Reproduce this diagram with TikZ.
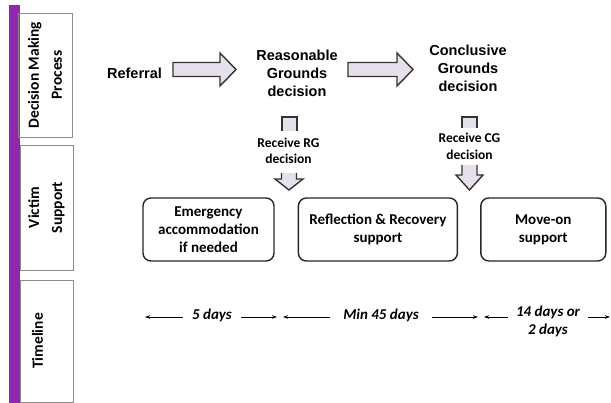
\documentclass[tikz,border=0pt]{standalone}
\usepackage{fontspec}
\setmainfont{Liberation Sans}
\newfontfamily\calib{Carlito}
\usetikzlibrary{calc,arrows.meta,positioning}
\definecolor{lanepurple}{RGB}{145,38,175}
\definecolor{arrowfill}{RGB}{230,224,237}
\definecolor{laneline}{RGB}{140,140,140}

\tikzset{
  lane/.style={draw=laneline, line width=0.8pt, rotate=90, inner sep=0pt},
  lanetext/.style={rotate=90, align=center, font=\calib\bfseries\fontsize{15.5}{23}\selectfont},
  decision/.style={align=center, font=\bfseries\fontsize{14.5}{18}\selectfont},
  stage/.style={draw=black!85, line width=1.4pt, rounded corners=8pt, minimum height=63pt, align=center, inner sep=0pt, font=\calib\bfseries\fontsize{15}{18}\selectfont},
  receive/.style={align=center, inner sep=0pt, font=\calib\bfseries\fontsize{13.5}{16.5}\selectfont},
  span/.style={align=center, inner xsep=9pt, font=\calib\bfseries\itshape\fontsize{15}{18}\selectfont},
  spanline/.style={line width=0.9pt, -{Stealth[length=5pt,width=3.5pt]}},
  blockarrow/.style={draw=black!80, line width=1.4pt, fill=arrowfill, line join=miter},
}

% right block arrow: #1 start of shaft, #2 tip (same height)
\newcommand\rblock[2]{%
  \filldraw[blockarrow] ($(#1)+(0,-7)$) -- ($(#2)+(-16,-7)$) -- ($(#2)+(-16,-16.5)$) -- (#2)
    -- ($(#2)+(-16,16.5)$) -- ($(#2)+(-16,7)$) -- ($(#1)+(0,7)$) -- cycle;}
% open stub of a down arrow: #1 top centre, #2 length
\newcommand\dstub[2]{%
  \filldraw[blockarrow] ($(#1)+(-7.5,#2)$) -- ($(#1)+(-7.5,0)$) -- ($(#1)+(7.5,0)$) -- ($(#1)+(7.5,#2)$);}
% open head of a down arrow: #1 tip, #2 total length, #3 head length, #4 head half width
\newcommand\dhead[4]{%
  \filldraw[blockarrow] ($(#1)+(-7.5,-#2)$) -- ($(#1)+(-7.5,-#3)$) -- ($(#1)+(-#4,-#3)$) -- (#1)
    -- ($(#1)+(#4,-#3)$) -- ($(#1)+(7.5,-#3)$) -- ($(#1)+(7.5,-#2)$);}

\begin{document}
\begin{tikzpicture}[x=1pt, y=-1pt]
\useasboundingbox (0,0) rectangle (611,403);

% lanes
\fill[lanepurple] (9,5) rectangle (20,403);
\node[lane, minimum width=124pt, minimum height=54pt] (laneD) at (45,75) {};
\node[lane, minimum width=125pt, minimum height=53pt] (laneV) at (46.5,207.5) {};
\node[lane, minimum width=122pt, minimum height=53pt] (laneT) at (46.5,341) {};
\node[lanetext] (laneDtxt) at (laneD) {Decision Making\\Process};
\node[lanetext] (laneVtxt) at (laneV) {Victim\\Support};
\node[lanetext] (laneTtxt) at ([xshift=-9pt]laneT.center) {Timeline};

% decision making process
\node[decision] (referral) at (134.5,73) {Referral};
\node[decision] (rgdec) at (297,73) {Reasonable\\Grounds\\decision};
\node[decision] (cgdec) at (468,68) {Conclusive\\Grounds\\decision};
\coordinate (a1from) at (173,69.5);
\coordinate (a1tip) at (236,69.5);
\coordinate (a2from) at (348,69.5);
\coordinate (a2tip) at (413,69.5);
\rblock{a1from}{a1tip}
\rblock{a2from}{a2tip}

% victim support
\node[receive] (rgget) at (288.5,151) {Receive RG\\decision};
\node[receive] (cgget) at (469.5,146.5) {Receive CG\\decision};
\coordinate (rgstub) at (289.5,117);
\coordinate (rgtip) at (289,190);
\coordinate (cgstub) at (469.5,117);
\coordinate (cgtip) at (469.5,190);
\dstub{rgstub}{14}
\dhead{rgtip}{17}{11}{14}
\dstub{cgstub}{11}
\dhead{cgtip}{25}{15}{13.5}

\node[stage, minimum width=131pt] (emerg) at (208.5,229.5) {Emergency\\accommodation\\if needed};
\node[stage, minimum width=159pt, right=23pt of emerg] (recov) {Reflection \& Recovery\\support};
\node[stage, minimum width=125pt, right=22pt of recov] (moveon) {Move-on\\support};

% timeline
\node[span] (t1) at (212,315) {5 days};
\node[span, inner xsep=13pt] (t2) at (381,315) {Min 45 days};
\node[span, inner xsep=8pt] (t3) at (548,321) {14 days or\\2 days};
\coordinate (e1l) at (145,317);
\coordinate (e1r) at (277,317);
\coordinate (e2l) at (283,317);
\coordinate (e2r) at (478,317);
\coordinate (e3l) at (484,317);
\coordinate (e3r) at (610,317);
\draw[spanline] (t1.west |- e1l) -- (e1l);
\draw[spanline] (t1.east |- e1r) -- (e1r);
\draw[spanline] (t2.west |- e2l) -- (e2l);
\draw[spanline] (t2.east |- e2r) -- (e2r);
\draw[spanline] (t3.west |- e3l) -- (e3l);
\draw[spanline] (t3.east |- e3r) -- (e3r);
\end{tikzpicture}
\end{document}
